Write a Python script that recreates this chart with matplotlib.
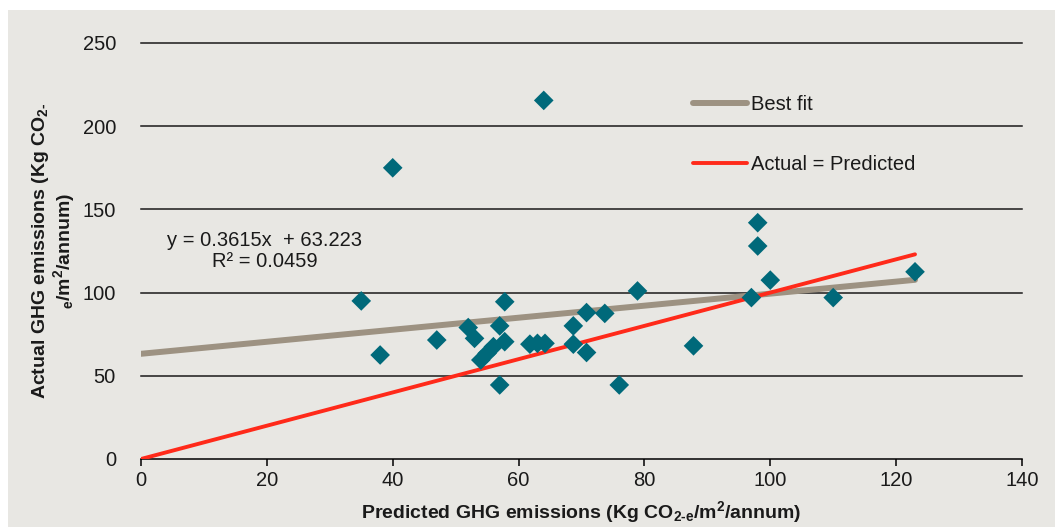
import matplotlib
matplotlib.use("Agg")
import matplotlib.pyplot as plt
from matplotlib.patches import Rectangle
import numpy as np

plt.rcParams['font.family'] = ['Liberation Sans', 'DejaVu Sans']
plt.rcParams['mathtext.default'] = 'regular'

# Data
predicted = [35, 38, 40, 47, 52, 53, 54, 55, 56, 57, 57.8, 57.8, 57, 61.8, 63, 64.2,
             64, 68.7, 68.7, 70.8, 70.8, 73.7, 76, 78.9, 87.8, 97, 98, 98, 100, 110, 123]
actual = [95, 62.5, 175, 71.5, 79, 72.5, 59.5, 63.5, 67.5, 80, 94.5, 70.5, 44.5, 69, 69.5, 69.5,
          215.5, 80, 69, 88, 64, 87.5, 44.5, 101, 68, 97, 142, 128, 107.5, 97, 112.5]
fit_slope = 0.3615
fit_intercept = 63.223
r_squared = 0.0459
line_x = [0, 123]
x_ticks = [0, 20, 40, 60, 80, 100, 120, 140]
y_ticks = [0, 50, 100, 150, 200, 250]

W, H = 1055, 527
fig = plt.figure(figsize=(W / 100, H / 100), dpi=100, facecolor='white')
bg = '#e8e7e3'
fig.patches.append(Rectangle((8 / W, 0), 1 - 8 / W, 1 - 10 / H, transform=fig.transFigure,
                             facecolor=bg, edgecolor='none', zorder=-10))

ax = fig.add_axes([141 / W, 1 - 459 / H, (1022 - 141) / W, (459 - 43) / H])
ax.set_facecolor(bg)
ax.set_xlim(0, 140)
ax.set_ylim(0, 250)

for yv in y_ticks[1:]:
    ax.axhline(yv, color='#1a1a1a', lw=1.1, zorder=1, clip_on=False)

fx = np.array(line_x, dtype=float)
ax.plot(fx, fit_slope * fx + fit_intercept, color='#9d9282', lw=4.3,
        solid_capstyle='round', zorder=3, label='Best fit')
ax.plot(fx, fx, color='#ff2a1a', lw=2.8, solid_capstyle='round', zorder=3,
        label='Actual = Predicted')
ax.scatter(predicted, actual, marker='D', s=100, color='#00697a', edgecolors='none', zorder=4)

for s in ['left', 'right', 'top']:
    ax.spines[s].set_visible(False)
ax.spines['bottom'].set_color('black')
ax.spines['bottom'].set_linewidth(1.1)

ax.set_xticks(x_ticks)
ax.set_yticks(y_ticks)
ax.tick_params(axis='x', direction='out', length=5, width=1.1, color='black',
               labelsize=14.5, pad=4, labelcolor='#1a1a1a')
ax.tick_params(axis='y', length=0, labelsize=14.5, pad=18, labelcolor='#1a1a1a')

ax.set_xlabel('Predicted GHG emissions (Kg CO$_{2\u2010e}$/m$^{2}$/annum)',
              fontsize=14, fontweight='bold', labelpad=6, color='#1a1a1a')
ax.set_ylabel('Actual GHG emissions (Kg CO$_{2\u2010}$\n$_{e}$/m$^{2}$/annum)',
              fontsize=14, fontweight='bold', labelpad=4, color='#1a1a1a',
              linespacing=1.0)

ax.text(19.7, 125, 'y = 0.3615x  + 63.223\nR\u00b2 = ' + f'{r_squared:.4f}',
        ha='center', va='center', fontsize=14.5, color='#1a1a1a', linespacing=1.15)

leg = ax.legend(loc='upper left', bbox_to_anchor=(0.6266, 0.875), frameon=False,
                fontsize=14.5, handlelength=2.7, handletextpad=0.2, labelspacing=2.05,
                borderpad=0, borderaxespad=0)
for t in leg.get_texts():
    t.set_color('#1a1a1a')

fig.savefig('out.png', dpi=100, facecolor='white')
